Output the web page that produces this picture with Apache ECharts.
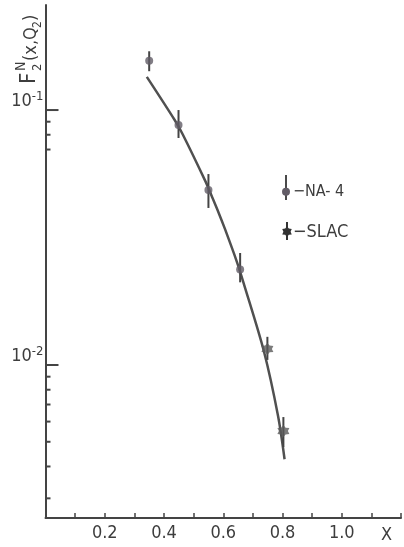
<!DOCTYPE html>
<html><head><meta charset="utf-8">
<script src="https://cdn.jsdelivr.net/npm/echarts@6/dist/echarts.min.js"></script>
<style>html,body{margin:0;padding:0;background:#fff}#c{width:404px;height:547px}</style>
</head><body><div id="c"></div>
<script>
const FONT = "'DejaVu Sans Condensed','Liberation Sans Narrow','DejaVu Sans',sans-serif";
const INK = '#3d3d3d';
// NA-4 points
const naX  = [0.350, 0.449, 0.550, 0.657];
const naY  = [0.156, 0.0873, 0.0486, 0.0237];
const naLo = [0.142, 0.0777, 0.0413, 0.0211];
const naHi = [0.170, 0.100, 0.0561, 0.0275];
// SLAC points
const slacX  = [0.749, 0.803];
const slacY  = [0.01156, 0.00551];
const slacLo = [0.01047, 0.00477];
const slacHi = [0.0129, 0.00625];
// fitted curve
const fitX = [0.342, 0.436, 0.463, 0.540, 0.563, 0.585, 0.606, 0.646, 0.668, 0.737, 0.785, 0.807];
const fitY = [0.1349, 0.0914, 0.0804, 0.0525, 0.0454, 0.0394, 0.0341, 0.0254, 0.0211, 0.01135, 0.00631, 0.00427];
// axis ticks / labels
const xLabels = ['0.2', '0.4', '0.6', '0.8', '1.0'];
const yMajor = [0.1, 0.01];
const yMinor = [0.09, 0.08, 0.07, 0.009, 0.008, 0.007, 0.006, 0.005, 0.004, 0.003];

const chart = echarts.init(document.getElementById('c'));

function starPts(n, r1, r2, cx, cy) {
  const pts = [];
  for (let i = 0; i < 2 * n; i++) {
    const r = i % 2 ? r2 : r1;
    const a = Math.PI * i / n - Math.PI / 2;
    pts.push([cx + r * Math.cos(a), cy + r * Math.sin(a)]);
  }
  return pts;
}
const STAR = 'path://' + starPts(6, 10, 6.5, 0, 0).map((p, i) => (i ? 'L' : 'M') + p[0].toFixed(2) + ',' + p[1].toFixed(2)).join('') + 'Z';

function errItem(params, api) {
  const p1 = api.coord([api.value(0), api.value(1)]);
  const p2 = api.coord([api.value(0), api.value(2)]);
  return { type: 'line', shape: { x1: p1[0], y1: p1[1], x2: p2[0], y2: p2[1] },
    style: { stroke: '#444', lineWidth: 2 } };
}
function tickItem(len) {
  return function (params, api) {
    const p = api.coord([0, api.value(0)]);
    return { type: 'line', shape: { x1: p[0], y1: p[1], x2: p[0] + len, y2: p[1] },
      style: { stroke: '#444', lineWidth: 2 } };
  };
}

const option = {
  animation: false,
  backgroundColor: '#fff',
  grid: { left: 45.5, top: 5, width: 361.2, height: 513 },
  xAxis: {
    type: 'value', min: 0, max: 1.2, interval: 0.1,
    name: 'X', nameLocation: 'end', nameGap: -20,
    nameTextStyle: { fontFamily: FONT, fontSize: 18, color: INK, verticalAlign: 'top', padding: [8, 0, 0, 0] },
    axisLine: { lineStyle: { color: '#444', width: 2 } },
    axisTick: { inside: true, length: 5, lineStyle: { color: '#444', width: 1.5 } },
    splitLine: { show: false },
    axisLabel: {
      margin: 6, fontFamily: FONT, fontSize: 18, color: INK,
      formatter: v => { const s = v.toFixed(1); return xLabels.indexOf(s) >= 0 ? s : ''; }
    }
  },
  yAxis: {
    type: 'log', logBase: 10, min: 0.002512, max: 0.2582,
    axisLine: { lineStyle: { color: '#444', width: 2 } },
    axisTick: { show: false },
    splitLine: { show: false },
    minorTick: { show: false },
    axisLabel: {
      margin: 2, verticalAlign: 'middle', padding: [0, 0, 19, 0],
      formatter: v => {
        const e = Math.log10(v);
        if (Math.abs(e - Math.round(e)) < 1e-6 && yMajor.some(m => Math.abs(m - v) / m < 1e-6))
          return '{b|10}{s|' + Math.round(e) + '}';
        return '';
      },
      rich: {
        b: { fontFamily: FONT, fontSize: 18, color: INK, lineHeight: 20, verticalAlign: 'bottom' },
        s: { fontFamily: FONT, fontSize: 13, color: INK, lineHeight: 12, verticalAlign: 'top' }
      }
    }
  },
  series: [
    { type: 'custom', renderItem: tickItem(13), data: yMajor.map(v => [v]), encode: { y: 0 }, clip: false, silent: true, z: 5 },
    { type: 'custom', renderItem: tickItem(5), data: yMinor.map(v => [v]), encode: { y: 0 }, clip: false, silent: true, z: 5 },
    { type: 'line', data: fitX.map((x, i) => [x, fitY[i]]), smooth: 0.3, showSymbol: false,
      lineStyle: { color: '#505050', width: 2.5 }, z: 2 },
    { type: 'custom', renderItem: errItem, data: naX.map((x, i) => [x, naLo[i], naHi[i]]), encode: { x: 0, y: [1, 2] }, z: 3 },
    { type: 'custom', renderItem: errItem, data: slacX.map((x, i) => [x, slacLo[i], slacHi[i]]), encode: { x: 0, y: [1, 2] }, z: 3 },
    { type: 'scatter', data: naX.map((x, i) => [x, naY[i]]), symbol: 'circle', symbolSize: 8,
      itemStyle: { color: '#625c66' }, z: 4 },
    { type: 'scatter', data: slacX.map((x, i) => [x, slacY[i]]), symbol: STAR, symbolSize: 12,
      itemStyle: { color: '#5a5a5a' }, z: 4 }
  ],
  graphic: [
    { type: 'group', x: 40, y: 84, rotation: Math.PI / 2, children: [
      { type: 'text', x: 0, y: 0, style: { text: 'F', fontFamily: FONT, fontSize: 22, fill: INK, verticalAlign: 'bottom' } },
      { type: 'text', x: 13, y: 4, style: { text: '2', fontFamily: FONT, fontSize: 13, fill: INK, verticalAlign: 'bottom' } },
      { type: 'text', x: 13, y: -12, style: { text: 'N', fontFamily: FONT, fontSize: 14, fill: INK, verticalAlign: 'bottom' } },
      { type: 'text', x: 23, y: 0, style: { text: '(x,Q', fontFamily: FONT, fontSize: 18, fill: INK, verticalAlign: 'bottom' } },
      { type: 'text', x: 56, y: 4, style: { text: '2', fontFamily: FONT, fontSize: 12, fill: INK, verticalAlign: 'bottom' } },
      { type: 'text', x: 63, y: 0, style: { text: ')', fontFamily: FONT, fontSize: 18, fill: INK, verticalAlign: 'bottom' } }
    ]},
    { type: 'line', shape: { x1: 286, y1: 175, x2: 286, y2: 200 }, style: { stroke: '#4a4a4a', lineWidth: 2 } },
    { type: 'circle', shape: { cx: 286, cy: 191.7, r: 4 }, style: { fill: '#625c66' } },
    { type: 'text', x: 293, y: 192, style: { text: '\u2212NA- 4', fontFamily: FONT, fontSize: 16, fill: INK, verticalAlign: 'middle' } },
    { type: 'line', shape: { x1: 287, y1: 222, x2: 287, y2: 240 }, style: { stroke: '#333', lineWidth: 2 } },
    { type: 'polygon', shape: { points: starPts(6, 5.5, 3.6, 287, 231.7) }, style: { fill: '#333' } },
    { type: 'text', x: 293, y: 232, style: { text: '\u2212SLAC', fontFamily: FONT, fontSize: 18, fill: INK, verticalAlign: 'middle' } }
  ]
};
chart.setOption(option);
</script></body></html>
